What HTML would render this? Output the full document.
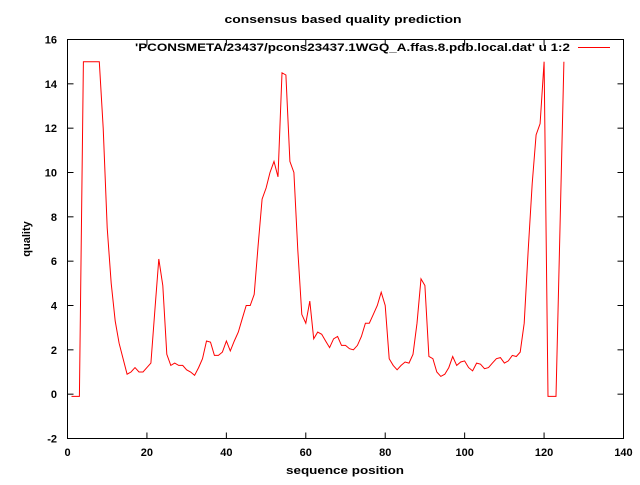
<!DOCTYPE html>
<html><head><meta charset="utf-8"><style>
html,body{margin:0;padding:0;background:#fff}
svg text{font-family:"Liberation Sans",sans-serif;font-weight:bold;font-size:11px;fill:#000}
</style></head><body>
<svg id="chart" width="640" height="480" xmlns="http://www.w3.org/2000/svg">
<text x="343" y="23" text-anchor="middle" textLength="237" lengthAdjust="spacingAndGlyphs">consensus based quality prediction</text>
<rect x="67.5" y="39.5" width="556" height="399" fill="none" stroke="#000" stroke-width="1"/>
<g id="ticks"></g>
<g id="labels"></g>
<text transform="translate(30,239) rotate(-90)" text-anchor="middle">quality</text>
<text x="345" y="474" text-anchor="middle" textLength="118" lengthAdjust="spacingAndGlyphs">sequence position</text>
<text x="570" y="51" text-anchor="end" textLength="435" lengthAdjust="spacingAndGlyphs">'PCONSMETA/23437/pcons23437.1WGQ_A.ffas.8.pdb.local.dat' u 1:2</text>
<line x1="578" y1="47.5" x2="610" y2="47.5" stroke="#f00" stroke-width="1"/>
<polyline id="series" fill="none" stroke="#f00" stroke-width="1"/>
</svg>
<script>
const positions = [1,2,3,4,5,6,7,8,9,10,11,12,13,14,15,16,17,18,19,20,21,22,23,24,25,26,27,28,29,30,31,32,33,34,35,36,37,38,39,40,41,42,43,44,45,46,47,48,49,50,51,52,53,54,55,56,57,58,59,60,61,62,63,64,65,66,67,68,69,70,71,72,73,74,75,76,77,78,79,80,81,82,83,84,85,86,87,88,89,90,91,92,93,94,95,96,97,98,99,100,101,102,103,104,105,106,107,108,109,110,111,112,113,114,115,116,117,118,119,120,121,122,123,124,125];
const quality = [-0.1,-0.1,-0.1,15,15,15,15,15,12,7.5,5,3.3,2.3,1.6,0.9,1.0,1.2,1.0,1.0,1.2,1.4,3.8,6.1,4.9,1.8,1.3,1.4,1.3,1.3,1.1,1.0,0.85,1.2,1.6,2.4,2.35,1.75,1.75,1.9,2.4,1.95,2.4,2.8,3.4,4.0,4.0,4.5,6.7,8.8,9.3,10.0,10.5,9.8,14.5,14.4,10.5,10.0,6.5,3.6,3.2,4.2,2.5,2.8,2.7,2.4,2.1,2.5,2.6,2.2,2.2,2.05,2.0,2.2,2.6,3.2,3.2,3.6,4.0,4.6,4.0,1.6,1.3,1.1,1.3,1.45,1.4,1.8,3.2,5.2,4.9,1.7,1.6,1.0,0.8,0.9,1.2,1.7,1.3,1.45,1.5,1.2,1.05,1.4,1.35,1.15,1.2,1.4,1.6,1.65,1.4,1.5,1.75,1.7,1.9,3.2,6.5,9.5,11.7,12.2,15,-0.1,-0.1,-0.1,7.5,15];
const xTicks = [0,20,40,60,80,100,120,140];
const yTicks = [-2,0,2,4,6,8,10,12,14,16];
const X0=67.5,X1=623.5,Y0=438.5,Y1=39.5;
const xScale = v => X0 + (v-0)/(140-0)*(X1-X0);
const yScale = v => Y0 - (v+2)/(16+2)*(Y0-Y1);
const NS="http://www.w3.org/2000/svg";
const tg=document.getElementById('ticks'), lg=document.getElementById('labels');
function mk(tag,attrs,parent){const e=document.createElementNS(NS,tag);for(const k in attrs)e.setAttribute(k,attrs[k]);parent.appendChild(e);return e;}
xTicks.forEach(t=>{
  const x=xScale(t);
  const a=mk('line',{x1:x,y1:Y0,x2:x,y2:Y0-6,stroke:'#000'},tg);
  
  
  const b=mk('line',{x1:x,y1:Y1,x2:x,y2:Y1+6,stroke:'#000'},tg);
  
  
  const l=mk('text',{x:x,y:456,'text-anchor':'middle'},lg);
  l.textContent=t;
  
  
});
yTicks.forEach(t=>{
  const y=yScale(t);
  const a=mk('line',{x1:X0,y1:y,x2:X0+6,y2:y,stroke:'#000'},tg);
  
  
  const b=mk('line',{x1:X1,y1:y,x2:X1-6,y2:y,stroke:'#000'},tg);
  
  
  const l=mk('text',{x:57,y:y+4,'text-anchor':'end'},lg);
  l.textContent=t;
  
  
});
document.getElementById('series').setAttribute('points',positions.map((p,i)=>xScale(p).toFixed(1)+','+yScale(quality[i]).toFixed(1)).join(' '));
</script>
</body></html>
